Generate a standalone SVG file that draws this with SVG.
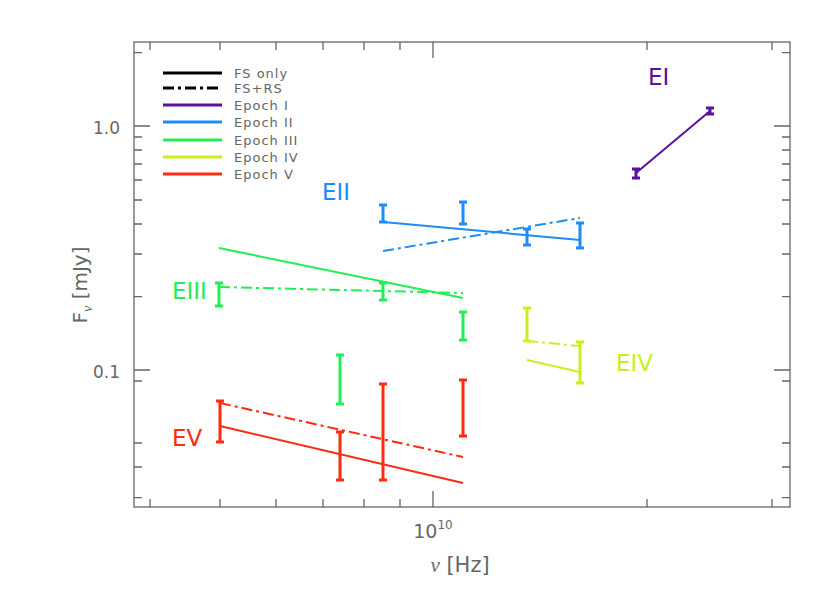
<svg xmlns="http://www.w3.org/2000/svg" width="830" height="593" viewBox="0 0 830 593">
<defs><style>
text{font-family:"DejaVu Sans","Liberation Sans",sans-serif;}
.ax{stroke:#666;stroke-width:1.3;fill:none}
.lab{fill:#666}
.leg{fill:#666;font-size:13px;letter-spacing:1px}
.dd{stroke-dasharray:11 4 3 4}
.p{stroke:#5a10a0}.b{stroke:#1e8cf5}.g{stroke:#22ee55}.y{stroke:#c8f020}.r{stroke:#ff2a12}
.l{stroke-width:2;fill:none}
.e{stroke-width:3;fill:none}
.big{font-size:23px}
</style></defs>
<rect width="830" height="593" fill="#fff"/>
<g id="axes">
<rect class="ax" x="134" y="42" width="656" height="465"/>
<path class="ax" d="M150,507v-8M220,507v-8M276,507v-8M323,507v-8M364,507v-8M400,507v-8M433,507v-16M647,507v-8M772,507v-8
M150,42v8M220,42v8M276,42v8M323,42v8M364,42v8M400,42v8M433,42v16M647,42v8M772,42v8
M134,126h16M134,370h16M134,52.6h8M134,137h8M134,150h8M134,164h8M134,180h8M134,200h8M134,224h8M134,254h8M134,296.6h8M134,443h8M134,467h8M134,497.6h8M134,381h8
M790,126h-16M790,370h-16M790,52.6h-8M790,137h-8M790,150h-8M790,164h-8M790,180h-8M790,200h-8M790,224h-8M790,254h-8M790,296.6h-8M790,443h-8M790,467h-8M790,497.6h-8M790,381h-8"/>
<text class="lab" x="120" y="134" text-anchor="end" style="font-size:17px">1.0</text>
<text class="lab" x="120" y="378" text-anchor="end" style="font-size:17px">0.1</text>
<text class="lab" x="433" y="538" text-anchor="middle" style="font-size:19px">10<tspan dy="-9" style="font-size:12px">10</tspan></text>
<text class="lab" x="460" y="572" text-anchor="middle" style="font-size:21px"><tspan style="font-style:italic;font-family:'Liberation Serif',serif">ν</tspan>  [Hz]</text>
<text class="lab" transform="translate(87,285) rotate(-90)" text-anchor="middle" style="font-size:20px">F<tspan dy="5" style="font-size:14px;font-style:italic;font-family:'Liberation Serif',serif">ν</tspan><tspan dy="-5">  [mJy]</tspan></text>
</g>
<g id="legend">
<path stroke="#000" stroke-width="3" d="M163,73h59"/>
<path stroke="#000" stroke-width="3" class="dd" d="M163,88h59"/>
<path stroke-width="3" class="p" d="M163,105h59"/>
<path stroke-width="3" class="b" d="M163,122h59"/>
<path stroke-width="3" class="g" d="M163,140h59"/>
<path stroke-width="3" class="y" d="M163,157h59"/>
<path stroke-width="3" class="r" d="M163,174h59"/>
<text class="leg" x="234" y="78">FS only</text>
<text class="leg" x="234" y="93">FS+RS</text>
<text class="leg" x="234" y="110">Epoch I</text>
<text class="leg" x="234" y="127">Epoch II</text>
<text class="leg" x="234" y="145">Epoch III</text>
<text class="leg" x="234" y="162">Epoch IV</text>
<text class="leg" x="234" y="179">Epoch V</text>
</g>
<g id="connectors">
<path class="l p" d="M636,173L710,111"/>
<path class="l b" d="M383,222L580,240"/><path class="l b dd" d="M383,251L580,218"/>
<path class="l g" d="M219,248L463,298"/><path class="l g dd" d="M219,287L463,293"/>
<path class="l y" d="M527,360L580,372"/><path class="l y dd" d="M527,341L580,346"/>
<path class="l r" d="M220,426L463,483"/><path class="l r dd" d="M220,403L463,457"/>
</g>
<g id="epoch1"><path class="e p" d="M636,169v9M632,169h8M632,178h8M710,108v6M706,108h8M706,114h8"/>
<text x="648" y="85" class="big" fill="#5a10a0">EI</text></g>
<g id="epoch2"><path class="e b" d="M383,205v17M379,205h8M379,222h8M463,202v22M459,202h8M459,224h8M527,229v16M523,229h8M523,245h8M580,223v25M576,223h8M576,248h8"/>
<text x="322" y="200" class="big" fill="#1e8cf5">EII</text></g>
<g id="epoch3"><path class="e g" d="M219,283v23M215,283h8M215,306h8M383,283v17M379,283h8M379,300h8M463,312v28M459,312h8M459,340h8M340,355v49M336,355h8M336,404h8"/>
<text x="172" y="299" class="big" fill="#22ee55">EIII</text></g>
<g id="epoch4"><path class="e y" d="M527,308v33M523,308h8M523,341h8M580,342v41M576,342h8M576,383h8"/>
<text x="616" y="371" class="big" fill="#c8f020">EIV</text></g>
<g id="epoch5"><path class="e r" d="M220,401v41M216,401h8M216,442h8M340,432v48M336,432h8M336,480h8M383,384v96M379,384h8M379,480h8M463,380v56M459,380h8M459,436h8"/>
<text x="172" y="446" class="big" fill="#ff2a12">EV</text></g>
</svg>
